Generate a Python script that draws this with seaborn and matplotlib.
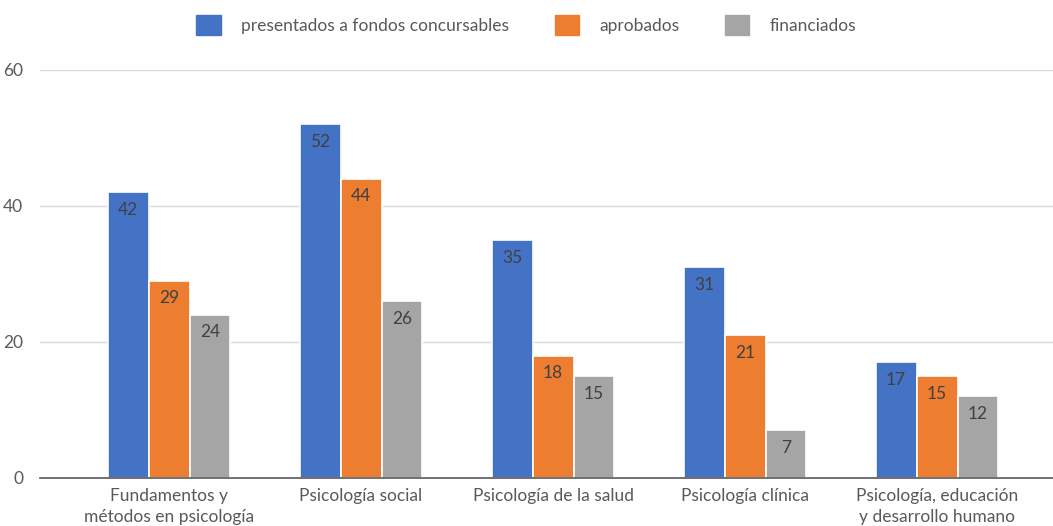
import numpy as np
import pandas as pd
import matplotlib.pyplot as plt
from matplotlib.patches import Patch
import seaborn as sns

categories = [
    "Fundamentos y\nmétodos en psicología",
    "Psicología social",
    "Psicología de la salud",
    "Psicología clínica",
    "Psicología, educación\ny desarrollo humano",
]
series = ["presentados a fondos concursables", "aprobados", "financiados"]
presentados = [42, 52, 35, 31, 17]
aprobados = [29, 44, 18, 21, 15]
financiados = [24, 26, 15, 7, 12]
colors = ["#4472C4", "#ED7D31", "#A5A5A5"]

df = pd.DataFrame({
    "area": categories * 3,
    "serie": [s for s in series for _ in categories],
    "valor": presentados + aprobados + financiados,
})

sns.set_theme(style="white")
plt.rcParams["font.family"] = ["Lato", "DejaVu Sans"]

fig = plt.figure(figsize=(10.53, 5.26), dpi=100)
ax = fig.add_axes([0.038, 0.0913, 0.962, 0.7757])

sns.barplot(data=df, x="area", y="valor", hue="serie", hue_order=series,
            palette=colors, saturation=1, width=0.64, edgecolor="white",
            linewidth=1.2, ax=ax, legend=False)

for cont in ax.containers:
    for bar in cont:
        h = bar.get_height()
        ax.annotate(f"{h:.0f}", (bar.get_x() + bar.get_width() / 2, h),
                    xytext=(0, -7), textcoords="offset points",
                    ha="center", va="top", fontsize=12.5, color="#404040")

ax.set_xlim(-0.672, 4.604)
ax.set_ylim(0, 60)
ax.set_yticks([0, 20, 40, 60])
ax.yaxis.grid(True, color="#D9D9D9", linewidth=1)
ax.set_axisbelow(True)
for s in ["top", "right", "left"]:
    ax.spines[s].set_visible(False)
ax.spines["bottom"].set_color("#595959")
ax.spines["bottom"].set_linewidth(1.2)
ax.set_xlabel("")
ax.set_ylabel("")
ax.tick_params(axis="both", length=0, labelsize=12.5, labelcolor="#595959")
ax.tick_params(axis="x", pad=7)
ax.tick_params(axis="y", pad=12)
for lab in ax.get_xticklabels():
    lab.set_linespacing(1.4)

handles = [Patch(facecolor=c, edgecolor=c) for c in colors]
fig.legend(handles, series, loc="center", bbox_to_anchor=(0.5, 0.952), ncol=3,
           frameon=False, fontsize=12.5, labelcolor="#595959",
           handlelength=1.4, handleheight=1.4, columnspacing=2.6, handletextpad=1.2)

fig.savefig("out.png", dpi=100)
